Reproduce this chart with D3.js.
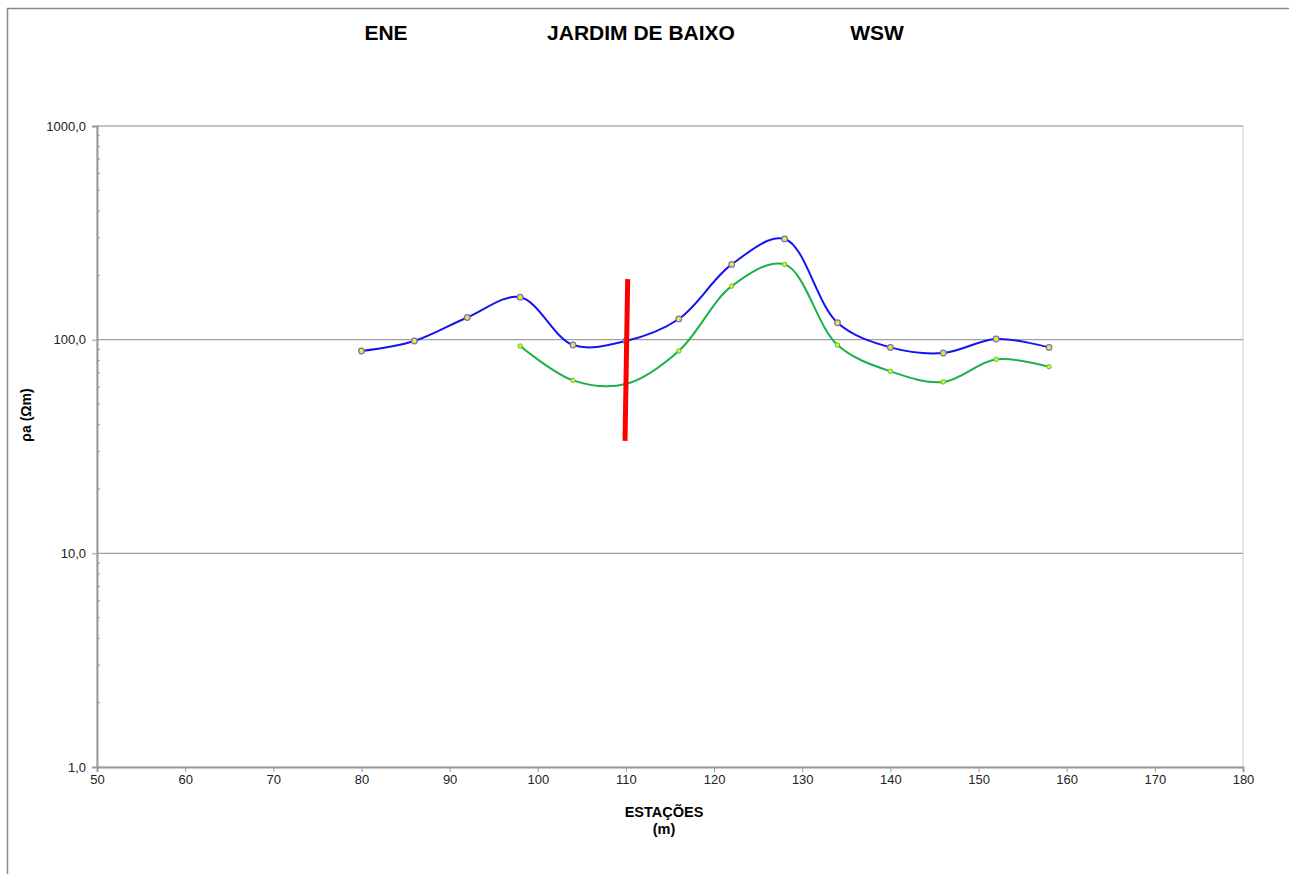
<!DOCTYPE html>
<html>
<head>
<meta charset="utf-8">
<script src="https://cdn.jsdelivr.net/npm/d3@7"></script>
<style>
  body { margin: 0; background: #fff; }
  text { font-family: 'Liberation Sans', Arial, sans-serif; }
</style>
</head>
<body>
<script>
  // stations (m)
  const stations = [80, 86, 92, 98, 104, 110, 116, 122, 128, 134, 140, 146, 152, 158];
  // apparent resistivity, blue series (Ohm.m)
  const rhoBlue = [88.5, 98.6, 127, 158, 94.4, 98.6, 125, 225, 296, 120, 92, 86.6, 100.7, 92];
  // apparent resistivity, green series (starts at 98 m)
  const greenStations = [98, 104, 110, 116, 122, 128, 134, 140, 146, 152, 158];
  const rhoGreen = [93.4, 64.5, 62, 88.5, 178, 225, 94.4, 71.1, 63.4, 80.9, 74.7];
  // red marker line
  const markerX = [110.2, 109.9];
  const markerY = [192, 33.6];

  const xTicks = d3.range(50, 181, 10);
  const yTicks = [1, 10, 100, 1000];
  const titles = [
    { text: 'ENE', x: 386 },
    { text: 'JARDIM DE BAIXO', x: 641 },
    { text: 'WSW', x: 877 }
  ];

  const width = 1289;
  const height = 874;
  const margin = { top: 126, right: 46, bottom: 107, left: 97 };

  const svg = d3.select('body')
    .append('svg')
    .attr('width', width)
    .attr('height', height);

  // outer chart border
  svg.append('rect')
    .attr('x', 7.5)
    .attr('y', 8.5)
    .attr('width', width + 10)
    .attr('height', height + 10)
    .attr('fill', 'none')
    .attr('stroke', '#888')
    .attr('stroke-width', 1.5);

  const xScale = d3.scaleLinear()
    .domain([50, 180])
    .range([margin.left, width - margin.right]);

  const yScale = d3.scaleLog()
    .domain([1, 1000])
    .range([height - margin.bottom, margin.top]);

  // plot area frame (light)
  svg.append('rect')
    .attr('x', xScale(50))
    .attr('y', yScale(1000))
    .attr('width', xScale(180) - xScale(50))
    .attr('height', yScale(1) - yScale(1000))
    .attr('fill', 'none')
    .attr('stroke', '#d0d0d0')
    .attr('stroke-width', 1);

  // gridlines
  svg.append('g')
    .selectAll('line')
    .data(yTicks.filter((d) => d > 1))
    .join('line')
    .attr('x1', xScale(50))
    .attr('x2', xScale(180))
    .attr('y1', (d) => yScale(d))
    .attr('y2', (d) => yScale(d))
    .attr('stroke', '#a0a0a0')
    .attr('stroke-width', 1.2);

  // x axis
  const xAxis = svg.append('g')
    .attr('transform', `translate(0, ${yScale(1)})`)
    .call(d3.axisBottom(xScale).tickValues(xTicks).tickSize(5).tickPadding(3).tickFormat(d3.format('d')));
  xAxis.select('.domain').attr('stroke', '#999').attr('stroke-width', 2);
  xAxis.selectAll('.tick line').attr('stroke', '#999');
  xAxis.selectAll('.tick text')
    .attr('font-size', 13)
    .attr('fill', '#222')
    .attr('font-family', "'Liberation Sans', Arial, sans-serif");

  // y axis
  const yAxis = svg.append('g')
    .attr('transform', `translate(${xScale(50)}, 0)`)
    .call(d3.axisLeft(yScale).tickValues(yTicks).tickSize(5).tickPadding(6)
      .tickFormat((d) => d3.format('.1f')(d).replace('.', ',')));
  yAxis.select('.domain').attr('stroke', '#999').attr('stroke-width', 2);
  yAxis.selectAll('.tick line').attr('stroke', '#999');
  yAxis.selectAll('.tick text')
    .attr('font-size', 13)
    .attr('fill', '#222')
    .attr('font-family', "'Liberation Sans', Arial, sans-serif");

  // minor ticks on log axis
  const minor = [];
  [1, 10, 100].forEach((base) => {
    for (let k = 2; k <= 9; k++) minor.push(base * k);
  });
  svg.append('g')
    .selectAll('line')
    .data(minor)
    .join('line')
    .attr('x1', xScale(50))
    .attr('x2', xScale(50) + 3)
    .attr('y1', (d) => yScale(d))
    .attr('y2', (d) => yScale(d))
    .attr('stroke', '#999');

  // curves
  const line = d3.line()
    .x((d) => xScale(d[0]))
    .y((d) => yScale(d[1]))
    .curve(d3.curveCatmullRom.alpha(0.5));

  const blueData = stations.map((s, i) => [s, rhoBlue[i]]);
  const greenData = greenStations.map((s, i) => [s, rhoGreen[i]]);

  svg.append('path')
    .datum(greenData)
    .attr('d', line)
    .attr('fill', 'none')
    .attr('stroke', '#1cb04a')
    .attr('stroke-width', 2);

  svg.append('path')
    .datum(blueData)
    .attr('d', line)
    .attr('fill', 'none')
    .attr('stroke', '#1414f0')
    .attr('stroke-width', 2);

  svg.append('g')
    .selectAll('circle')
    .data(greenData)
    .join('circle')
    .attr('cx', (d) => xScale(d[0]))
    .attr('cy', (d) => yScale(d[1]))
    .attr('r', 2.2)
    .attr('fill', '#f2f200')
    .attr('stroke', '#4cc060')
    .attr('stroke-width', 1);

  svg.append('g')
    .selectAll('circle')
    .data(blueData)
    .join('circle')
    .attr('cx', (d) => xScale(d[0]))
    .attr('cy', (d) => yScale(d[1]))
    .attr('r', 2.8)
    .attr('fill', '#f2f200')
    .attr('stroke', '#6a6af0')
    .attr('stroke-width', 1.2);

  // red vertical marker
  svg.append('line')
    .attr('x1', xScale(markerX[0]))
    .attr('y1', yScale(markerY[0]))
    .attr('x2', xScale(markerX[1]))
    .attr('y2', yScale(markerY[1]))
    .attr('stroke', '#ff0000')
    .attr('stroke-width', 5);

  // titles
  svg.append('g')
    .selectAll('text')
    .data(titles)
    .join('text')
    .attr('x', (d) => d.x)
    .attr('y', 40)
    .attr('text-anchor', 'middle')
    .attr('font-size', 21)
    .attr('font-weight', 'bold')
    .attr('fill', '#000')
    .text((d) => d.text);

  // x axis title
  svg.append('text')
    .attr('x', 664)
    .attr('y', 817)
    .attr('text-anchor', 'middle')
    .attr('font-size', 14.5)
    .attr('font-weight', 'bold')
    .text('ESTAÇÕES');
  svg.append('text')
    .attr('x', 664)
    .attr('y', 834)
    .attr('text-anchor', 'middle')
    .attr('font-size', 14.5)
    .attr('font-weight', 'bold')
    .text('(m)');

  // y axis title
  svg.append('text')
    .attr('transform', 'translate(31, 415) rotate(-90)')
    .attr('text-anchor', 'middle')
    .attr('font-size', 14)
    .attr('font-weight', 'bold')
    .text('ρa (Ωm)');
</script>
</body>
</html>
